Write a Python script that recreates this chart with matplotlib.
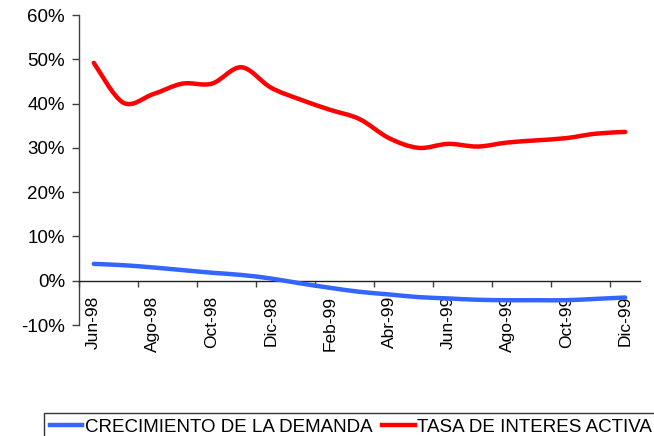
import numpy as np
import matplotlib
matplotlib.use("Agg")
import matplotlib.pyplot as plt
from matplotlib.path import Path
from matplotlib.patches import PathPatch
from matplotlib.lines import Line2D

plt.rcParams['font.family'] = ['Liberation Sans', 'DejaVu Sans']

months = ["Jun-98", "Jul-98", "Ago-98", "Sep-98", "Oct-98", "Nov-98", "Dic-98",
          "Ene-99", "Feb-99", "Mar-99", "Abr-99", "May-99", "Jun-99", "Jul-99",
          "Ago-99", "Sep-99", "Oct-99", "Nov-99", "Dic-99"]
demanda = [3.8, 3.5, 3.0, 2.4, 1.8, 1.3, 0.5, -0.6, -1.6, -2.5, -3.1, -3.7,
           -4.0, -4.3, -4.4, -4.4, -4.4, -4.1, -3.8]
tasa = [49.2, 40.2, 42.1, 44.5, 44.5, 48.2, 43.6, 40.9, 38.6, 36.5, 32.2, 30.0,
        30.9, 30.3, 31.2, 31.7, 32.2, 33.2, 33.6]
ytick_vals = [-10, 0, 10, 20, 30, 40, 50, 60]
ytick_labels = ["-10%", "0%", "10%", "20%", "30%", "40%", "50%", "60%"]
series_names = ["CRECIMIENTO DE LA DEMANDA", "TASA DE INTERES ACTIVA"]
colors = ["#3366FF", "#FF0000"]


def smooth_path(xs, ys):
    pts = np.column_stack([xs, ys]).astype(float)
    n = len(pts)
    verts = [pts[0]]
    codes = [Path.MOVETO]
    for i in range(n - 1):
        p0 = pts[i - 1] if i > 0 else pts[i]
        p1 = pts[i]
        p2 = pts[i + 1]
        p3 = pts[i + 2] if i + 2 < n else pts[i + 1]
        c1 = p1 + (p2 - p0) / 6.0
        c2 = p2 - (p3 - p1) / 6.0
        verts += [c1, c2, p2]
        codes += [Path.CURVE4] * 3
    return Path(verts, codes)


fig = plt.figure(figsize=(6.54, 4.36), dpi=100)
ax = fig.add_axes([79 / 654, 111 / 436, 561 / 654, 310 / 436])

x = np.arange(len(months))
for vals, c in zip([demanda, tasa], colors):
    patch = PathPatch(smooth_path(x, vals), facecolor='none', edgecolor=c,
                      lw=3.2, capstyle='round', joinstyle='round', zorder=3)
    ax.add_patch(patch)

ax.set_xlim(-0.5, len(months) - 0.5)
ax.set_ylim(-10, 60)

for s in ['top', 'right']:
    ax.spines[s].set_visible(False)
ax.spines['bottom'].set_position(('data', 0))
ax.spines['left'].set_color('#404040')
ax.spines['bottom'].set_color('#202020')
ax.spines['left'].set_linewidth(1.0)
ax.spines['bottom'].set_linewidth(1.0)

ax.set_yticks(ytick_vals)
ax.set_yticklabels(ytick_labels)
ax.tick_params(axis='y', direction='out', length=5, width=1, color='#404040',
               labelsize=13.5, pad=5)

lab_idx = list(range(0, len(months), 2))
ax.set_xticks(lab_idx)
ax.set_xticklabels([months[i] for i in lab_idx], rotation=90, va='top', ha='center')
ax.tick_params(axis='x', which='major', length=0, labelsize=12.5, pad=11)
ax.set_xticks(np.arange(-0.5, len(months) - 1, 2), minor=True)
ax.tick_params(axis='x', which='minor', direction='out', length=4.5, width=1, color='#404040')

handles = [Line2D([], [], color=c, lw=3.2) for c in colors]
leg = fig.legend(handles, series_names, loc='upper left',
                 bbox_to_anchor=(44 / 654, 1 - 413 / 436), ncol=2,
                 frameon=True, fancybox=False, edgecolor='black',
                 fontsize=13.5, handlelength=1.75, handletextpad=0.12,
                 columnspacing=0.5, borderpad=0.3, borderaxespad=0)
leg.get_frame().set_linewidth(1.0)

fig.savefig("out.png", dpi=100)
